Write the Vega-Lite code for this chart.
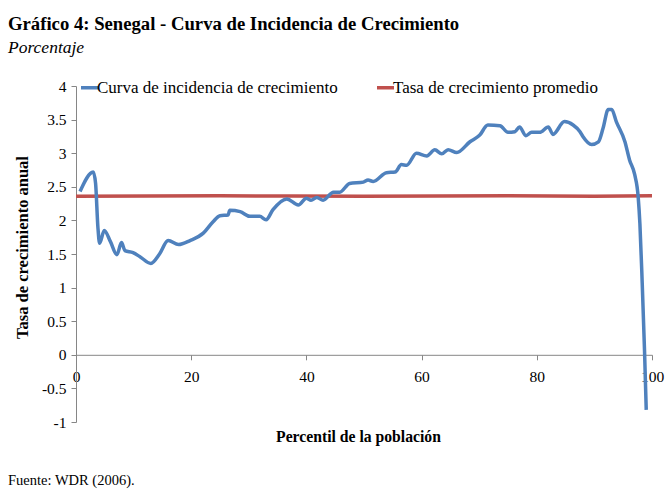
{
  "$schema": "https://vega.github.io/schema/vega-lite/v6.json",
  "width": 576,
  "height": 336,
  "autosize": {"type": "none"},
  "padding": {"left": 76, "top": 86, "right": 16, "bottom": 67},
  "background": "white",
  "config": {
    "view": {"stroke": null},
    "font": "Liberation Serif",
    "axis": {
      "grid": false,
      "domainColor": "#868686",
      "tickColor": "#868686",
      "tickSize": 5,
      "labelFont": "Liberation Serif",
      "labelFontSize": 15.5,
      "labelColor": "black",
      "labelOverlap": false,
      "titleFont": "Liberation Serif",
      "titleFontWeight": "bold",
      "titleColor": "black"
    },
    "legend": {
      "labelFont": "Liberation Serif",
      "labelFontSize": 17,
      "labelColor": "black",
      "labelLimit": 400
    },
    "text": {"font": "Liberation Serif"}
  },
  "title": {
    "text": "Gráfico 4: Senegal - Curva de Incidencia de Crecimiento",
    "subtitle": "Porcentaje",
    "anchor": "start",
    "frame": "group",
    "dx": -68,
    "offset": 21,
    "font": "Liberation Serif",
    "fontSize": 18.7,
    "fontWeight": "bold",
    "color": "black",
    "subtitleFont": "Liberation Serif",
    "subtitleFontSize": 17.5,
    "subtitleFontStyle": "italic",
    "subtitleColor": "black",
    "subtitlePadding": 5
  },
  "datasets": {
    "curva": [
      {"p": 0.7, "g": 2.43}, {"p": 3.0, "g": 2.72}, {"p": 3.4, "g": 2.55}, {"p": 3.8, "g": 1.9},
      {"p": 4.1, "g": 1.66}, {"p": 4.9, "g": 1.85}, {"p": 6.0, "g": 1.68}, {"p": 7.1, "g": 1.49},
      {"p": 7.9, "g": 1.67}, {"p": 8.5, "g": 1.55}, {"p": 9.9, "g": 1.52}, {"p": 11.1, "g": 1.46},
      {"p": 13.0, "g": 1.36}, {"p": 14.5, "g": 1.5}, {"p": 16.0, "g": 1.7}, {"p": 17.8, "g": 1.64},
      {"p": 19.8, "g": 1.7}, {"p": 22.1, "g": 1.81}, {"p": 23.8, "g": 1.98}, {"p": 25.0, "g": 2.07},
      {"p": 26.4, "g": 2.08}, {"p": 26.7, "g": 2.15}, {"p": 28.5, "g": 2.13}, {"p": 30.2, "g": 2.06},
      {"p": 31.9, "g": 2.06}, {"p": 33.0, "g": 2.01}, {"p": 34.2, "g": 2.16}, {"p": 36.6, "g": 2.32},
      {"p": 38.6, "g": 2.23}, {"p": 40.0, "g": 2.33}, {"p": 40.8, "g": 2.3}, {"p": 41.8, "g": 2.34},
      {"p": 42.9, "g": 2.3}, {"p": 44.7, "g": 2.42}, {"p": 45.8, "g": 2.42}, {"p": 47.5, "g": 2.55},
      {"p": 49.9, "g": 2.57}, {"p": 50.7, "g": 2.6}, {"p": 51.6, "g": 2.58}, {"p": 53.9, "g": 2.71},
      {"p": 55.4, "g": 2.72}, {"p": 56.5, "g": 2.83}, {"p": 57.4, "g": 2.82}, {"p": 59.1, "g": 3.0},
      {"p": 60.9, "g": 2.96}, {"p": 62.3, "g": 3.05}, {"p": 63.5, "g": 2.99}, {"p": 64.6, "g": 3.05},
      {"p": 66.1, "g": 3.01}, {"p": 68.4, "g": 3.17}, {"p": 70.1, "g": 3.27}, {"p": 71.5, "g": 3.42},
      {"p": 73.6, "g": 3.41}, {"p": 75.0, "g": 3.31}, {"p": 76.2, "g": 3.32}, {"p": 77.0, "g": 3.39},
      {"p": 78.1, "g": 3.26}, {"p": 79.1, "g": 3.31}, {"p": 80.5, "g": 3.31}, {"p": 82.0, "g": 3.39},
      {"p": 82.8, "g": 3.28}, {"p": 84.8, "g": 3.47}, {"p": 86.3, "g": 3.42}, {"p": 87.5, "g": 3.32},
      {"p": 88.0, "g": 3.25}, {"p": 89.5, "g": 3.13}, {"p": 90.7, "g": 3.17}, {"p": 91.5, "g": 3.37},
      {"p": 92.4, "g": 3.65}, {"p": 93.0, "g": 3.65}, {"p": 93.8, "g": 3.47}, {"p": 95.3, "g": 3.17},
      {"p": 96.1, "g": 2.9}, {"p": 97.0, "g": 2.68}, {"p": 97.6, "g": 2.35}, {"p": 97.9, "g": 1.95},
      {"p": 98.3, "g": 1.07}, {"p": 98.7, "g": 0.07}, {"p": 99.0, "g": -0.82}
    ],
    "promedio": [
      {"p": 0, "g": 2.36}, {"p": 25, "g": 2.365}, {"p": 50, "g": 2.36}, {"p": 75, "g": 2.367}, {"p": 90, "g": 2.36}, {"p": 100, "g": 2.367}
    ],
    "nota": [{"t": "Fuente: WDR (2006)."}]
  },
  "layer": [
    {
      "data": {"name": "promedio"},
      "transform": [{"calculate": "'Tasa de crecimiento promedio'", "as": "serie"}],
      "mark": {"type": "line", "strokeWidth": 3.5, "interpolate": "monotone"},
      "encoding": {
        "x": {
          "field": "p", "type": "quantitative",
          "scale": {"domain": [0, 100], "nice": false, "zero": false},
          "axis": {
            "values": [0, 20, 40, 60, 80, 100],
            "offset": -67.2,
            "labelPadding": 10,
            "labelFlush": false,
            "title": "Percentil de la población",
            "titleFontSize": 15.7,
            "titleX": 282,
            "titleY": 82,
            "titleBaseline": "middle"
          }
        },
        "y": {
          "field": "g", "type": "quantitative",
          "scale": {"domain": [-1, 4], "nice": false, "zero": false},
          "axis": {
            "values": [-1, -0.5, 0, 0.5, 1, 1.5, 2, 2.5, 3, 3.5, 4],
            "labelExpr": "replace(format(datum.value, '.1~f'), '\u2212', '-')",
            "labelPadding": 5,
            "title": "Tasa de crecimiento anual",
            "titleFontSize": 16.5,
            "titleX": -54,
            "titleY": 161,
            "titleBaseline": "middle"
          }
        },
        "color": {
          "field": "serie", "type": "nominal",
          "scale": {"domain": ["Curva de incidencia de crecimiento", "Tasa de crecimiento promedio"], "range": ["#4F81BD", "#C0504D"]},
          "legend": {
            "title": null,
            "orient": "none",
            "legendX": 3,
            "legendY": -9,
            "direction": "horizontal",
            "symbolType": "stroke",
            "symbolSize": 289,
            "symbolStrokeWidth": 3.5,
            "labelOffset": -3,
            "columnPadding": 32,
            "padding": 0
          }
        }
      }
    },
    {
      "data": {"name": "curva"},
      "transform": [{"calculate": "'Curva de incidencia de crecimiento'", "as": "serie"}],
      "mark": {"type": "line", "strokeWidth": 3.5, "interpolate": "monotone"},
      "encoding": {
        "x": {
          "field": "p", "type": "quantitative",
          "axis": {
            "values": [0, 20, 40, 60, 80, 100],
            "offset": -67.2,
            "labelPadding": 10,
            "labelFlush": false,
            "title": "Percentil de la población",
            "titleFontSize": 15.7,
            "titleX": 282,
            "titleY": 82,
            "titleBaseline": "middle"
          }
        },
        "y": {
          "field": "g", "type": "quantitative",
          "axis": {
            "values": [-1, -0.5, 0, 0.5, 1, 1.5, 2, 2.5, 3, 3.5, 4],
            "labelExpr": "replace(format(datum.value, '.1~f'), '\u2212', '-')",
            "labelPadding": 5,
            "title": "Tasa de crecimiento anual",
            "titleFontSize": 16.5,
            "titleX": -54,
            "titleY": 161,
            "titleBaseline": "middle"
          }
        },
        "color": {"field": "serie", "type": "nominal"}
      }
    },
    {
      "data": {"name": "nota"},
      "mark": {"type": "text", "align": "left", "baseline": "middle", "font": "Liberation Serif", "fontSize": 14.5, "color": "black"},
      "encoding": {
        "x": {
          "datum": -11.8, "type": "quantitative",
          "axis": {
            "values": [0, 20, 40, 60, 80, 100],
            "offset": -67.2,
            "labelPadding": 10,
            "labelFlush": false,
            "title": "Percentil de la población",
            "titleFontSize": 15.7,
            "titleX": 282,
            "titleY": 82,
            "titleBaseline": "middle"
          }
        },
        "y": {
          "datum": -1.875, "type": "quantitative",
          "axis": {
            "values": [-1, -0.5, 0, 0.5, 1, 1.5, 2, 2.5, 3, 3.5, 4],
            "labelExpr": "replace(format(datum.value, '.1~f'), '\u2212', '-')",
            "labelPadding": 5,
            "title": "Tasa de crecimiento anual",
            "titleFontSize": 16.5,
            "titleX": -54,
            "titleY": 161,
            "titleBaseline": "middle"
          }
        },
        "text": {"field": "t"}
      }
    }
  ]
}
